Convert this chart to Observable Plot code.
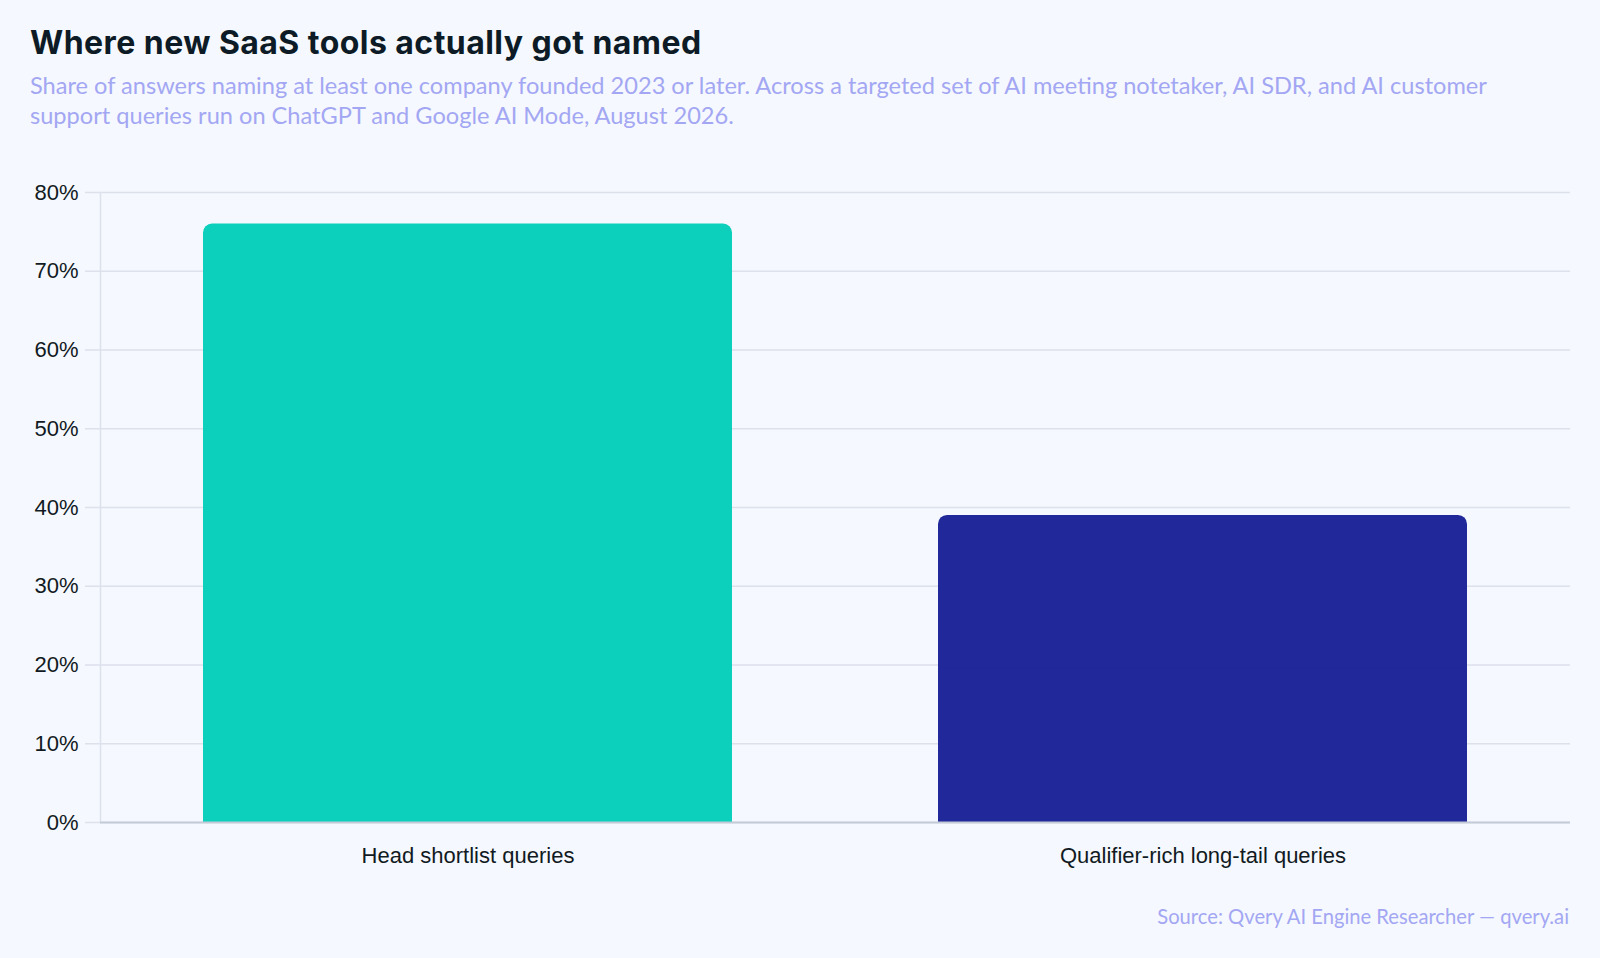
<!DOCTYPE html>
<html>
<head>
<meta charset="utf-8">
<script src="https://cdn.jsdelivr.net/npm/d3@7"></script>
<script src="https://cdn.jsdelivr.net/npm/@observablehq/plot@0.6"></script>
<style>
  html, body { margin: 0; padding: 0; background: #f5f8fe; }
  body { width: 1600px; height: 958px; position: relative; overflow: hidden; }
  .title { position: absolute; left: 30px; top: 24px; font-family: Inter, sans-serif; font-weight: 700; font-size: 32px; line-height: 1.2; color: #0d1b26; letter-spacing: 0.45px; white-space: nowrap; }
  .subtitle { position: absolute; left: 30px; top: 69.5px; width: 1500px; font-family: Lato, sans-serif; font-size: 23.6px; line-height: 30px; color: #a3a7f3; }
  #chart { position: absolute; left: 0; top: 150px; }
  .source { position: absolute; right: 31px; top: 904px; font-family: Lato, sans-serif; font-size: 20.2px; line-height: 1.2; color: #a3a7f3; white-space: nowrap; }
</style>
</head>
<body>
<div class="title">Where new SaaS tools actually got named</div>
<div class="subtitle">Share of answers naming at least one company founded 2023 or later. Across a targeted set of AI meeting notetaker, AI SDR, and AI customer support queries run on ChatGPT and Google AI Mode, August 2026.</div>
<div id="chart"></div>
<div class="source">Source: Qvery AI Engine Researcher — qvery.ai</div>
<script>
const categories = ["Head shortlist queries", "Qualifier-rich long-tail queries"];
const shares = [76, 39];
const barColors = ["#0ccfbc", "#20289a"];
const yTicks = [0, 10, 20, 30, 40, 50, 60, 70, 80];

const data = categories.map((c, i) => ({category: c, share: shares[i]}));

const chart = Plot.plot({
  width: 1600,
  height: 730,
  marginLeft: 100,
  marginRight: 30,
  marginTop: 42,
  marginBottom: 58,
  style: {background: "transparent", fontFamily: "'Liberation Sans', Arial, sans-serif", color: "#111a22", overflow: "visible"},
  x: {domain: categories, paddingInner: 0.28, paddingOuter: 0.14, label: null},
  y: {domain: [0, 80], ticks: yTicks, label: null},
  color: {domain: categories, range: barColors},
  marks: [
    Plot.gridY(yTicks, {stroke: "#dce1eb", strokeOpacity: 1, strokeWidth: 1.5}),
    Plot.frame({anchor: "left", stroke: "#dce1eb", strokeWidth: 1.5}),
    Plot.axisY(yTicks, {tickSize: 15, tickPadding: 7, stroke: "#dce1eb", strokeWidth: 1.5, fontSize: 22, tickFormat: d => d + "%"}),
    Plot.barY(data, {x: "category", y: "share", fill: "category", rx: 9}),
    Plot.barY(data, {x: "category", y1: 0, y2: d => d.share / 2, fill: "category"}),
    Plot.ruleY([0], {stroke: "#c4cbd7", strokeWidth: 2}),
    Plot.axisX({tickSize: 0, tickPadding: 25, fontSize: 22, fill: "#111a22"})
  ]
});
document.getElementById("chart").appendChild(chart);
</script>
</body>
</html>
